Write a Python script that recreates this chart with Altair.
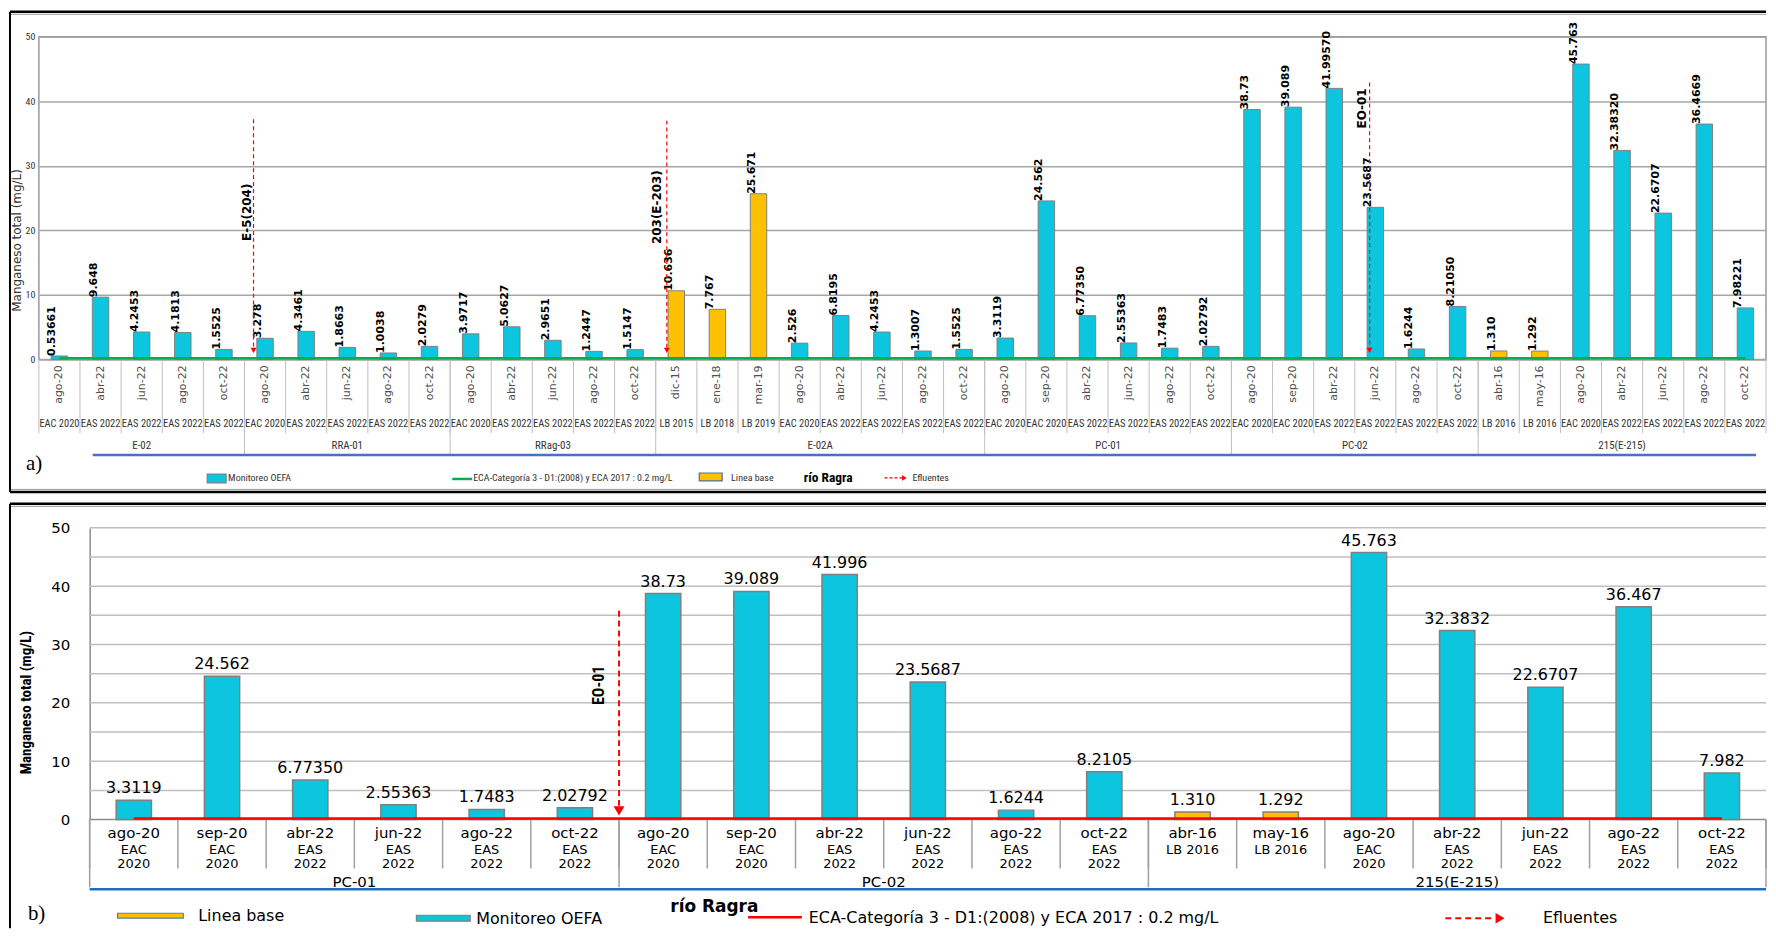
import altair as alt
import pandas as pd

# ---------------- panel a) data ----------------
A_GROUPS = ["E-02", "RRA-01", "RRag-03", "E-02A", "PC-01", "PC-02", "215(E-215)"]
A_GROUP_SIZES = [5, 5, 5, 8, 6, 6, 7]
A_MONTH = ["ago-20", "abr-22", "jun-22", "ago-22", "oct-22",
           "ago-20", "abr-22", "jun-22", "ago-22", "oct-22",
           "ago-20", "abr-22", "jun-22", "ago-22", "oct-22",
           "dic-15", "ene-18", "mar-19", "ago-20", "abr-22", "jun-22", "ago-22", "oct-22",
           "ago-20", "sep-20", "abr-22", "jun-22", "ago-22", "oct-22",
           "ago-20", "sep-20", "abr-22", "jun-22", "ago-22", "oct-22",
           "abr-16", "may-16", "ago-20", "abr-22", "jun-22", "ago-22", "oct-22"]
A_CAMPAIGN = ["EAC 2020", "EAS 2022", "EAS 2022", "EAS 2022", "EAS 2022",
              "EAC 2020", "EAS 2022", "EAS 2022", "EAS 2022", "EAS 2022",
              "EAC 2020", "EAS 2022", "EAS 2022", "EAS 2022", "EAS 2022",
              "LB 2015", "LB 2018", "LB 2019", "EAC 2020", "EAS 2022", "EAS 2022", "EAS 2022", "EAS 2022",
              "EAC 2020", "EAC 2020", "EAS 2022", "EAS 2022", "EAS 2022", "EAS 2022",
              "EAC 2020", "EAC 2020", "EAS 2022", "EAS 2022", "EAS 2022", "EAS 2022",
              "LB 2016", "LB 2016", "EAC 2020", "EAS 2022", "EAS 2022", "EAS 2022", "EAS 2022"]
A_VALUE = [0.53661, 9.648, 4.2453, 4.1813, 1.5525,
           3.278, 4.3461, 1.8663, 1.0038, 2.0279,
           3.9717, 5.0627, 2.9651, 1.2447, 1.5147,
           10.636, 7.767, 25.671, 2.526, 6.8195, 4.2453, 1.3007, 1.5525,
           3.3119, 24.562, 6.7735, 2.55363, 1.7483, 2.02792,
           38.73, 39.089, 41.9957, 23.5687, 1.6244, 8.2105,
           1.310, 1.292, 45.763, 32.3832, 22.6707, 36.4669, 7.98221]
A_LABEL = ["0.53661", "9.648", "4.2453", "4.1813", "1.5525",
           "3.278", "4.3461", "1.8663", "1.0038", "2.0279",
           "3.9717", "5.0627", "2.9651", "1.2447", "1.5147",
           "10.636", "7.767", "25.671", "2.526", "6.8195", "4.2453", "1.3007", "1.5525",
           "3.3119", "24.562", "6.77350", "2.55363", "1.7483", "2.02792",
           "38.73", "39.089", "41.99570", "23.5687", "1.6244", "8.21050",
           "1.310", "1.292", "45.763", "32.38320", "22.6707", "36.4669", "7.98221"]
A_EFF_NAME = ["E-5(204)", "203(E-203)", "EO-01"]
A_EFF_LABEL_X = [5.05, 15.03, 32.18]
A_EFF_LABEL_Y = [22.8, 23.6, 38.9]
A_EFF_ARROW_X = [5.22, 15.27, 32.36]
A_EFF_ARROW_TOP = [37.2, 37.0, 42.9]

# ---------------- panel b) data ----------------
B_GROUPS = ["PC-01", "PC-02", "215(E-215)"]
B_GROUP_SIZES = [6, 6, 7]
B_MONTH = ["ago-20", "sep-20", "abr-22", "jun-22", "ago-22", "oct-22",
           "ago-20", "sep-20", "abr-22", "jun-22", "ago-22", "oct-22",
           "abr-16", "may-16", "ago-20", "abr-22", "jun-22", "ago-22", "oct-22"]
B_CAMP1 = ["EAC", "EAC", "EAS", "EAS", "EAS", "EAS",
           "EAC", "EAC", "EAS", "EAS", "EAS", "EAS",
           "LB 2016", "LB 2016", "EAC", "EAS", "EAS", "EAS", "EAS"]
B_CAMP2 = ["2020", "2020", "2022", "2022", "2022", "2022",
           "2020", "2020", "2022", "2022", "2022", "2022",
           "", "", "2020", "2022", "2022", "2022", "2022"]
B_VALUE = [3.3119, 24.562, 6.7735, 2.55363, 1.7483, 2.02792,
           38.73, 39.089, 41.996, 23.5687, 1.6244, 8.2105,
           1.310, 1.292, 45.763, 32.3832, 22.6707, 36.467, 7.982]
B_LABEL = ["3.3119", "24.562", "6.77350", "2.55363", "1.7483", "2.02792",
           "38.73", "39.089", "41.996", "23.5687", "1.6244", "8.2105",
           "1.310", "1.292", "45.763", "32.3832", "22.6707", "36.467", "7.982"]
B_EFF_NAME = ["EO-01"]
B_EFF_LABEL_X = [5.77]
B_EFF_LABEL_Y = [23.0]
B_EFF_ARROW_X = [6.0]
B_EFF_ARROW_TOP = [35.8]

ECA_LIMIT = 0.2
Y_TICKS = [0, 5, 10, 15, 20, 25, 30, 35, 40, 45, 50]
TIPOS = ["Monitoreo OEFA", "Linea base"]

# ---------------- styles ----------------
CYAN = "#0CC5DE"
YELLOW = "#FFC000"
BARSTROKE = "#808080"
GREEN = "#00B050"
RED = "#FF0000"
NARROW = "Roboto Condensed, Liberation Sans Narrow, Liberation Sans, sans-serif"
SANS = "DejaVu Sans"
SERIF = "Liberation Serif"

ONE = pd.DataFrame({"k": [0]})


def bar_frame(months, values, labels, camp_lists):
    n = len(values)
    d = pd.DataFrame({"i": list(range(n)), "value": values, "label": labels, "month": months})
    for name, lst in camp_lists.items():
        d[name] = lst
    d["x0"] = d["i"] + 0.3
    d["x1"] = d["i"] + 0.7
    d["xc"] = d["i"] + 0.5
    d["zero"] = 0.0
    return d


def bounds_frame(sizes):
    n = sum(sizes)
    starts = [0]
    for s in sizes:
        starts.append(starts[-1] + s)
    return pd.DataFrame({"b": list(range(n + 1)),
                         "major": [b in starts for b in range(n + 1)]})


def groups_frame(names, sizes):
    centers, s0 = [], 0
    for s in sizes:
        centers.append(s0 + s / 2)
        s0 += s
    return pd.DataFrame({"g": names, "gc": centers})


def deco_rule(color, width, dash=None, **enc):
    kw = dict(color=color, strokeWidth=width)
    if dash:
        kw["strokeDash"] = dash
    return alt.Chart(ONE).mark_rule(**kw).encode(**enc)


def deco_text(txt, x, y, font, size, weight="normal", align="left", color="black", baseline="middle"):
    return alt.Chart(ONE).mark_text(font=font, fontSize=size, fontWeight=weight, align=align,
                                    baseline=baseline, color=color).encode(
        x=alt.value(x), y=alt.value(y), text=alt.value(txt))


def deco_rect(x, x2, y, y2, fill, stroke):
    return alt.Chart(ONE).mark_rect(fill=fill, stroke=stroke, strokeWidth=1.2).encode(
        x=alt.value(x), x2=alt.value(x2), y=alt.value(y), y2=alt.value(y2))


def deco_tri(shape, x, y, size):
    return alt.Chart(ONE).mark_point(shape=shape, filled=True, color=RED, size=size, opacity=1,
                                     strokeWidth=0).encode(x=alt.value(x), y=alt.value(y))


# =============== panel a ===============
W_A, H_A = 1734, 324
NA = len(A_VALUE)
dfa = bar_frame(A_MONTH, A_VALUE, A_LABEL, {"camp": A_CAMPAIGN})
dfa["tipo"] = ["Linea base" if c.startswith("LB") else "Monitoreo OEFA" for c in A_CAMPAIGN]
xa = alt.Scale(domain=[0, NA], nice=False, zero=False)
ya = alt.Scale(domain=[0, 50], nice=False, zero=True)

bars_a = alt.Chart(dfa).mark_rect(stroke=BARSTROKE, strokeWidth=1).encode(
    x=alt.X("x0:Q", scale=xa, axis=None),
    x2="x1:Q",
    y=alt.Y("value:Q", scale=ya, axis=alt.Axis(
        values=Y_TICKS, grid=True, gridColor="#A6A6A6", gridWidth=1.5, domain=False, ticks=False,
        labelFont=NARROW, labelFontSize=10, labelPadding=4, labelColor="#333333",
        title="Manganeso  total (mg/L)", titleFont=SANS, titleFontSize=12, titleFontWeight="normal",
        titleColor="#333333", titleX=-22, titleY=204, titleAngle=270, titleAlign="center",
        titleBaseline="middle")),
    y2="zero:Q",
    color=alt.Color("tipo:N", scale=alt.Scale(domain=TIPOS, range=[CYAN, YELLOW]), legend=None),
)
vlab_a = alt.Chart(dfa).mark_text(angle=270, align="left", baseline="middle", dy=-7, font=SANS,
                                  fontSize=11, fontWeight="bold", color="black").encode(
    x=alt.X("xc:Q", scale=xa), y=alt.Y("value:Q", scale=ya), text="label:N")
month_a = alt.Chart(dfa).mark_text(angle=270, align="right", baseline="middle", font=SANS,
                                   fontSize=11, color="#505050").encode(
    x=alt.X("xc:Q", scale=xa), y=alt.value(H_A + 6), text="month:N")
camp_a = alt.Chart(dfa).mark_text(align="center", baseline="middle", font=NARROW, fontSize=10.5,
                                  color="#333333").encode(
    x=alt.X("xc:Q", scale=xa), y=alt.value(389), text="camp:N")

bnd_a = bounds_frame(A_GROUP_SIZES)
bnd_a["major"] = [m and 0 < b < NA for b, m in zip(bnd_a["b"], bnd_a["major"])]
minor_a = alt.Chart(bnd_a).mark_rule(color="#BFBFBF", strokeWidth=1).encode(
    x=alt.X("b:Q", scale=xa), y=alt.value(H_A), y2=alt.value(398))
major_a = alt.Chart(bnd_a).transform_filter("datum.major").mark_rule(
    color="#BFBFBF", strokeWidth=1).encode(x=alt.X("b:Q", scale=xa), y=alt.value(H_A), y2=alt.value(419))
grp_a = alt.Chart(groups_frame(A_GROUPS, A_GROUP_SIZES)).mark_text(
    align="center", baseline="middle", font=NARROW, fontSize=11, color="#333333").encode(
    x=alt.X("gc:Q", scale=xa), y=alt.value(411), text="g:N")

eca_a = alt.Chart(pd.DataFrame({"xs": [0.5], "xe": [NA - 0.5], "y": [ECA_LIMIT]})).mark_rule(
    color=GREEN, strokeWidth=2.5).encode(x=alt.X("xs:Q", scale=xa), x2="xe:Q", y=alt.Y("y:Q", scale=ya))

effa = pd.DataFrame({"name": A_EFF_NAME, "lx": A_EFF_LABEL_X, "ly": A_EFF_LABEL_Y,
                     "ax": A_EFF_ARROW_X, "atop": A_EFF_ARROW_TOP})
effa["abot"] = 1.8
effa["ahead"] = 1.4
arrow_a = alt.Chart(effa).mark_rule(color=RED, strokeWidth=1.2, strokeDash=[4, 3]).encode(
    x=alt.X("ax:Q", scale=xa), y=alt.Y("atop:Q", scale=ya), y2="abot:Q")
head_a = alt.Chart(effa).mark_point(shape="triangle-down", filled=True, color=RED, size=35,
                                    opacity=1, strokeWidth=0).encode(
    x=alt.X("ax:Q", scale=xa), y=alt.Y("ahead:Q", scale=ya))
efflab_a = alt.Chart(effa).mark_text(angle=270, align="center", baseline="middle", font=SANS,
                                     fontSize=12, fontWeight="bold", color="black").encode(
    x=alt.X("lx:Q", scale=xa), y=alt.Y("ly:Q", scale=ya), text="name:N")

FL = -29
frame_a = [
    deco_rule("black", 2.5, x=alt.value(FL), x2=alt.value(W_A), y=alt.value(-25)),
    deco_rule("#9A9A9A", 1, x=alt.value(FL), x2=alt.value(W_A), y=alt.value(-22.5)),
    deco_rule("black", 2.5, x=alt.value(FL), x2=alt.value(W_A), y=alt.value(457)),
    deco_rule("#9A9A9A", 1, x=alt.value(FL), x2=alt.value(W_A), y=alt.value(454.5)),
    deco_rule("black", 2, x=alt.value(FL), y=alt.value(-25), y2=alt.value(457)),
    deco_rule("#4472C4", 2.5, x=alt.value(54), x2=alt.value(1724), y=alt.value(420)),
    deco_text("a)", -13, 429, SERIF, 21),
]
legend_a = [
    deco_rect(169, 188, 439, 448, CYAN, BARSTROKE),
    deco_text("Monitoreo OEFA", 190, 443.5, NARROW, 10, color="#333333"),
    deco_rule(GREEN, 2.5, x=alt.value(415), x2=alt.value(435), y=alt.value(444)),
    deco_text("ECA-Categoría 3 - D1:(2008) y ECA 2017 : 0.2 mg/L", 436, 443.5, NARROW, 10, color="#333333"),
    deco_rect(663, 686, 438, 446, YELLOW, "#4F6EA8"),
    deco_text("Linea base", 695, 443, NARROW, 10, color="#333333"),
    deco_text("río Ragra", 768, 443, NARROW, 13.5, weight="bold"),
    deco_rule(RED, 1.2, [3, 2], x=alt.value(849), x2=alt.value(867), y=alt.value(443)),
    deco_tri("triangle-right", 869, 443, 30),
    deco_text("Efluentes", 877, 443.5, NARROW, 10, color="#333333"),
]

top = alt.layer(bars_a, minor_a, major_a, eca_a, vlab_a, month_a, camp_a, grp_a,
                arrow_a, head_a, efflab_a, *frame_a, *legend_a).properties(
    width=W_A, height=H_A, view=alt.ViewBackground(stroke="#9A9A9A", strokeWidth=1.5))

# =============== panel b ===============
W_B, H_B = 1734, 293
NB = len(B_VALUE)
LEFT_B = 51
XPAD_B = NB * LEFT_B / (W_B - LEFT_B)
dfb = bar_frame(B_MONTH, B_VALUE, B_LABEL, {"c1": B_CAMP1, "c2": B_CAMP2})
dfb["tipo"] = ["Linea base" if c.startswith("LB") else "Monitoreo OEFA" for c in B_CAMP1]
xb = alt.Scale(domain=[-XPAD_B, NB], nice=False, zero=False)
yb = alt.Scale(domain=[0, 50], nice=False, zero=True)

grid_b = alt.Chart(pd.DataFrame({"g": Y_TICKS[1:]})).mark_rule(color="#BFBFBF", strokeWidth=1.5).encode(
    x=alt.value(LEFT_B), x2=alt.value(W_B), y=alt.Y("g:Q", scale=yb))
zero_b = deco_rule("#8C8C8C", 1.5, x=alt.value(LEFT_B), x2=alt.value(W_B), y=alt.value(H_B))
bars_b = alt.Chart(dfb).mark_rect(stroke=BARSTROKE, strokeWidth=1.5).encode(
    x=alt.X("x0:Q", scale=xb, axis=None),
    x2="x1:Q",
    y=alt.Y("value:Q", scale=yb, axis=alt.Axis(
        values=Y_TICKS, grid=False, domain=True, domainColor="#8C8C8C", domainWidth=1.5, ticks=False,
        offset=-LEFT_B, labelPadding=20, labelFont=SANS, labelFontSize=15, labelColor="black",
        title="Manganeso total (mg/L)", titleFont=NARROW, titleFontSize=15, titleFontWeight="bold",
        titleColor="black", titleX=-64, titleY=175, titleAngle=270, titleAlign="center",
        titleBaseline="middle")),
    y2="zero:Q",
    color=alt.Color("tipo:N", scale=alt.Scale(domain=TIPOS, range=[CYAN, YELLOW]), legend=None),
)
vlab_b = alt.Chart(dfb).mark_text(align="center", baseline="alphabetic", dy=-7, font=SANS,
                                  fontSize=16, color="black").encode(
    x=alt.X("xc:Q", scale=xb), y=alt.Y("value:Q", scale=yb), text="label:N")
month_b = alt.Chart(dfb).mark_text(align="center", baseline="middle", font=SANS, fontSize=15,
                                   color="black").encode(
    x=alt.X("xc:Q", scale=xb), y=alt.value(306), text="month:N")
c1_b = alt.Chart(dfb).mark_text(align="center", baseline="middle", font=SANS, fontSize=13,
                                color="black").encode(
    x=alt.X("xc:Q", scale=xb), y=alt.value(324), text="c1:N")
c2_b = alt.Chart(dfb).mark_text(align="center", baseline="middle", font=SANS, fontSize=13,
                                color="black").encode(
    x=alt.X("xc:Q", scale=xb), y=alt.value(337.5), text="c2:N")
bnd_b = bounds_frame(B_GROUP_SIZES)
minor_b = alt.Chart(bnd_b).mark_rule(color="#A0A0A0", strokeWidth=1.5).encode(
    x=alt.X("b:Q", scale=xb), y=alt.value(H_B), y2=alt.value(342))
major_b = alt.Chart(bnd_b).transform_filter("datum.major").mark_rule(
    color="#A0A0A0", strokeWidth=1.5).encode(x=alt.X("b:Q", scale=xb), y=alt.value(H_B), y2=alt.value(361))
grp_b = alt.Chart(groups_frame(B_GROUPS, B_GROUP_SIZES)).mark_text(
    align="center", baseline="middle", font=SANS, fontSize=15, color="black").encode(
    x=alt.X("gc:Q", scale=xb), y=alt.value(356), text="g:N")
eca_b = alt.Chart(pd.DataFrame({"xs": [0.5], "xe": [NB - 0.5], "y": [ECA_LIMIT]})).mark_rule(
    color=RED, strokeWidth=2.5).encode(x=alt.X("xs:Q", scale=xb), x2="xe:Q", y=alt.Y("y:Q", scale=yb))

effb = pd.DataFrame({"name": B_EFF_NAME, "lx": B_EFF_LABEL_X, "ly": B_EFF_LABEL_Y,
                     "ax": B_EFF_ARROW_X, "atop": B_EFF_ARROW_TOP})
effb["abot"] = 2.0
effb["ahead"] = 1.5
arrow_b = alt.Chart(effb).mark_rule(color=RED, strokeWidth=2, strokeDash=[6, 4]).encode(
    x=alt.X("ax:Q", scale=xb), y=alt.Y("atop:Q", scale=yb), y2="abot:Q")
head_b = alt.Chart(effb).mark_point(shape="triangle-down", filled=True, color=RED, size=120,
                                    opacity=1, strokeWidth=0).encode(
    x=alt.X("ax:Q", scale=xb), y=alt.Y("ahead:Q", scale=yb))
efflab_b = alt.Chart(effb).mark_text(angle=270, align="center", baseline="middle", font=NARROW,
                                     fontSize=16, fontWeight="bold", color="black").encode(
    x=alt.X("lx:Q", scale=xb), y=alt.Y("ly:Q", scale=yb), text="name:N")

frame_b = [
    deco_rule("black", 2.5, x=alt.value(FL), x2=alt.value(W_B), y=alt.value(-24)),
    deco_rule("#9A9A9A", 1, x=alt.value(FL), x2=alt.value(W_B), y=alt.value(-21.5)),
    deco_rule("black", 2, x=alt.value(FL), y=alt.value(-24), y2=alt.value(402)),
    deco_rule("#1F6FC5", 2.5, x=alt.value(LEFT_B), x2=alt.value(W_B), y=alt.value(363)),
    deco_text("b)", -11, 388, SERIF, 21),
]
legend_b = [
    deco_rect(79, 145, 387, 392, YELLOW, "#5B7DB1"),
    deco_text("Linea base", 160, 389.5, SANS, 16),
    deco_rect(379, 433, 389, 395, CYAN, BARSTROKE),
    deco_text("Monitoreo OEFA", 439, 393, SANS, 16),
    deco_text("río Ragra", 634, 381, SANS, 17, weight="bold"),
    deco_rule(RED, 2.5, x=alt.value(712), x2=alt.value(766), y=alt.value(391)),
    deco_text("ECA-Categoría 3 - D1:(2008) y ECA 2017 : 0.2 mg/L", 773, 392, SANS, 16),
    deco_rule(RED, 2, [6, 4], x=alt.value(1412), x2=alt.value(1462), y=alt.value(392)),
    deco_tri("triangle-right", 1467, 392, 110),
    deco_text("Efluentes", 1510, 392, SANS, 16),
]

bottom = alt.layer(grid_b, zero_b, bars_b, minor_b, major_b, eca_b, vlab_b, month_b, c1_b, c2_b,
                   grp_b, arrow_b, head_b, efflab_b, *frame_b, *legend_b).properties(
    width=W_B, height=H_B, view=alt.ViewBackground(stroke="transparent", strokeWidth=0))

chart = alt.vconcat(top, bottom, spacing=8).properties(padding=0, background="white").configure_view(
    strokeWidth=0)

chart.save("out.html", embed_options={"renderer": "svg", "actions": False})
